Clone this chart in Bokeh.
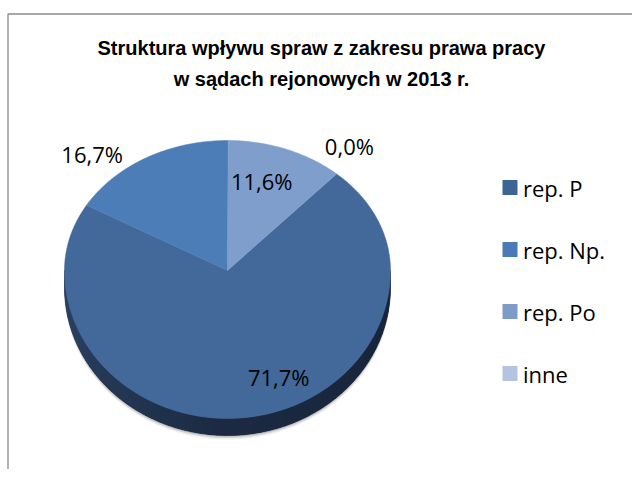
import math
from bokeh.plotting import figure
from bokeh.models import Range1d
from bokeh.core.properties import value
from bokeh.embed import file_html
from bokeh.resources import INLINE

# ---- data ----
TITLE_LINES = ["Struktura wpływu spraw z zakresu prawa pracy",
               "w sądach rejonowych w 2013 r."]
CATEGORIES = ["rep. P", "rep. Np.", "rep. Po", "inne"]
SHARES = [71.7, 16.7, 11.6, 0.0]
LABELS = ["71,7%", "16,7%", "11,6%", "0,0%"]

# ---- style ----
TOP_COLORS = ["#43699b", "#4d7db7", "#7f9ecb", "#b3c3df"]
LEGEND_COLORS = ["#3d6496", "#4a7ab8", "#7e9cc8", "#b4c4e0"]
FIRST_ANGLE = 42.0          # first slice angle, clockwise from 12 o'clock
CX, CY = 227.0, 270.0       # pie centre (page px)
RX, RY_BACK, RY_FRONT = 163.0, 130.0, 148.0
DEPTH = 17.0
LABEL_FACTOR = [0.72, 1.25, 0.6, 1.2]
LABEL_SHIFT = [(33, 1), (-34, 24), (-1, -17), (-9, -9)]
LABEL_FONT = value("Open Sans")

W, H = 632, 469
p = figure(width=W, height=H, x_range=Range1d(0, W), y_range=Range1d(H, 0),
           output_backend="svg", toolbar_location=None, min_border=0,
           x_axis_location=None, y_axis_location=None)
p.grid.visible = False
p.outline_line_color = None
p.background_fill_color = "white"
p.border_fill_color = "white"

# chart-area frame (left and top edges visible)
p.line(x=[7.5, 7.5, W], y=[H, 13.5, 13.5], line_color="#8a8a8a", line_width=1.3)


def proj(theta, depth=0.0, f=1.0):
    t = math.radians(theta)
    c = math.cos(t)
    ry = RY_BACK if c > 0 else RY_FRONT
    return CX + f * RX * math.sin(t), CY - f * ry * c + depth


def mix(c1, c2, t):
    a = [int(c1[i:i + 2], 16) for i in (1, 3, 5)]
    b = [int(c2[i:i + 2], 16) for i in (1, 3, 5)]
    return "#%02x%02x%02x" % tuple(int(round(a[k] + (b[k] - a[k]) * t)) for k in range(3))


# soft shadow under the pie
for off, alpha in [(4, 0.10), (2.5, 0.18), (1.2, 0.25)]:
    xs, ys = [], []
    for i in range(0, 181):
        x, y = proj(90 + i, DEPTH + off)
        xs.append(x)
        ys.append(y)
    p.patch(xs + [proj(270)[0], proj(90)[0]], ys + [CY, CY], fill_color="#606060",
            fill_alpha=alpha, line_color=None)

# side of the pie (front half): solid base, then shaded strips on top
bx, by = [], []
for i in range(181):
    x, y = proj(90 + i, DEPTH)
    bx.append(x)
    by.append(y)
for i in range(180, -1, -1):
    x, y = proj(90 + i)
    bx.append(x)
    by.append(y)
p.patch(bx, by, fill_color="#1c2b43", line_color="#1c2b43", line_width=0.5)

sxs, sys_, scol = [], [], []
N = 60
for i in range(N):
    a1 = 90 + 180 * i / N
    a2 = 90 + 180 * (i + 1.3) / N if i < N - 1 else 270
    x1, y1 = proj(a1)
    x2, y2 = proj(a2)
    sxs.append([x1, x2, x2, x1])
    sys_.append([y1, y2, y2 + DEPTH, y1 + DEPTH])
    mid = 90 + 180 * (i + 0.5) / N
    if mid < 180:
        col = mix("#17243a", "#1b2a41", (mid - 90) / 90)
    else:
        col = mix("#1b2a41", "#2c4468", (mid - 180) / 90)
    scol.append(col)
p.patches(sxs, sys_, fill_color=scol, line_color=None)

# top face slices
total = sum(SHARES)
start = FIRST_ANGLE
mids = []
for val, col in zip(SHARES, TOP_COLORS):
    span = 360.0 * val / total
    mids.append(start + span / 2)
    if span > 0:
        n = max(2, int(span))
        xs, ys = [CX], [CY]
        for i in range(n + 1):
            x, y = proj(start + span * i / n)
            xs.append(x)
            ys.append(y)
        p.patch(xs, ys, fill_color=col, line_color=col, line_width=0.5)
    start += span

# data labels
lx, ly = [], []
for m, f, (dx, dy) in zip(mids, LABEL_FACTOR, LABEL_SHIFT):
    x, y = proj(m, 0, f)
    lx.append(x + dx)
    ly.append(y + dy)
p.text(x=lx, y=ly, text=LABELS, text_font=LABEL_FONT, text_font_size="22px",
       text_align="center", text_baseline="middle", text_color="#000000")

# title
p.text(x=[321, 321], y=[47, 78], text=TITLE_LINES, text_font=value("Liberation Sans"),
       text_font_size="20px", text_font_style="bold", text_align="center",
       text_baseline="middle", text_color="#000000")

# legend
LEG_X, LEG_Y, LEG_STEP = 509.5, 187.0, 62.0
leg_y = [LEG_Y + i * LEG_STEP for i in range(len(CATEGORIES))]
p.rect(x=[LEG_X] * len(CATEGORIES), y=leg_y, width=15, height=15,
       fill_color=LEGEND_COLORS, line_color=None)
p.text(x=[LEG_X + 13] * len(CATEGORIES), y=leg_y, text=CATEGORIES, text_font=LABEL_FONT,
       text_font_size="22px", text_align="left", text_baseline="middle", text_color="#000000")

open("out.html", "w").write(file_html(p, INLINE))
